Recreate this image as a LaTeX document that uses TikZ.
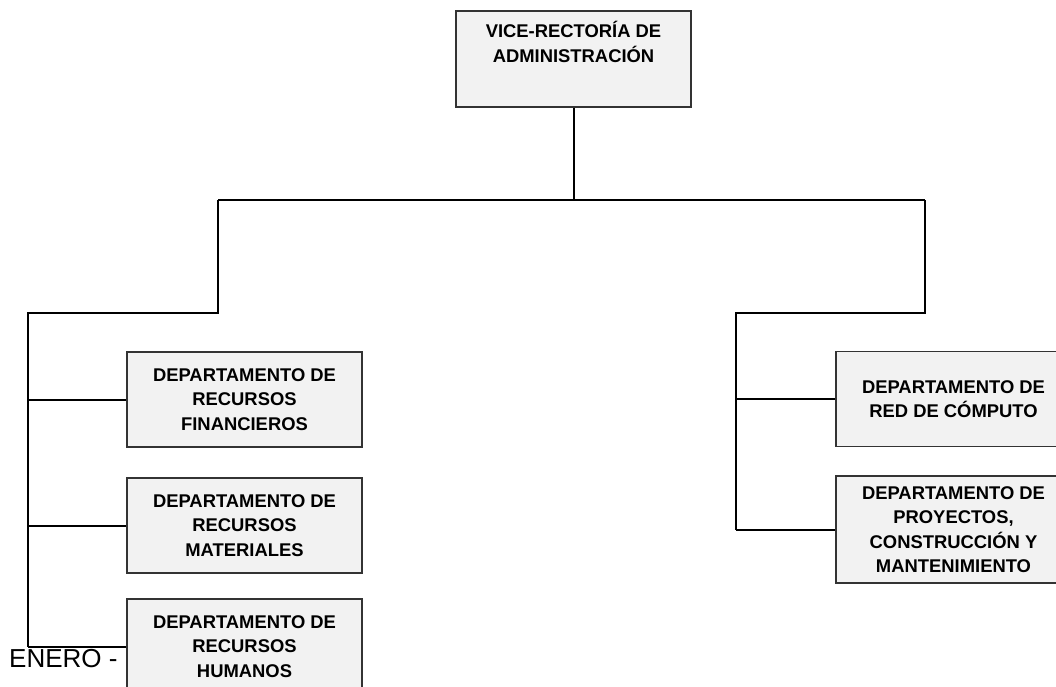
\documentclass[tikz,border=0pt]{standalone}
\usepackage{fontspec}
\setmainfont{Liberation Sans}
\usetikzlibrary{positioning}
\definecolor{boxfill}{RGB}{242,242,242}
\definecolor{boxline}{RGB}{51,51,51}

\begin{document}
\begin{tikzpicture}[x=1pt,y=-1pt,on grid]
       \tikzstyle{dept}=[draw=boxline,line width=1.2pt,fill=boxfill,align=center,
              minimum width=235pt,minimum height=95pt,inner sep=0pt,
              font=\bfseries\fontsize{18.4}{24.5}\selectfont]
       \tikzstyle{link}=[line width=2pt,black]

       \useasboundingbox (0,0) rectangle (1056,687);
       \clip (0,0) rectangle (1056,687);

       \node[dept,minimum height=96pt,text depth=34pt] (vra) at (573.5,59) {VICE-RECTORÍA DE\\ADMINISTRACIÓN};

       \node[dept](fin) at (244.5,399.5) {DEPARTAMENTO DE\\RECURSOS\\FINANCIEROS};
       \node[dept](mat) [below of=fin,node distance=126pt] {DEPARTAMENTO DE\\RECURSOS\\MATERIALES};
       \node[dept](hum) [below of=mat,node distance=121pt] {DEPARTAMENTO DE\\RECURSOS\\HUMANOS};

       \node[dept](red) at (953.5,399) {DEPARTAMENTO DE\\RED DE CÓMPUTO};
       \node[dept,minimum height=107pt](pro) [below of=red,node distance=130.5pt] {DEPARTAMENTO DE\\PROYECTOS,\\CONSTRUCCIÓN Y\\MANTENIMIENTO};

       \coordinate (busL) at (218,200);
       \coordinate (busR) at (925,200);
       \coordinate (trunkL) at (28,313);
       \coordinate (trunkR) at (736,313);

       \draw[link] (vra.south) -- (vra.south |- busL);
       \draw[link] (busL) -- (busR);
       \draw[link] (busL) |- (trunkL) -- (trunkL |- hum.west);
       \draw[link] (busR) |- (trunkR) -- (trunkR |- pro.west);

       \draw[link] (trunkL |- fin.west) -- (fin.west);
       \draw[link] (trunkL |- mat.west) -- (mat.west);
       \draw[link] (trunkL |- hum.west) -- (hum.west);
       \draw[link] (trunkR |- red.west) -- (red.west);
       \draw[link] (trunkR |- pro.west) -- (pro.west);

       \node[anchor=base west,inner sep=0pt,font=\fontsize{26}{30}\selectfont] (fecha) at (9,667) {ENERO -};
\end{tikzpicture}
\end{document}
